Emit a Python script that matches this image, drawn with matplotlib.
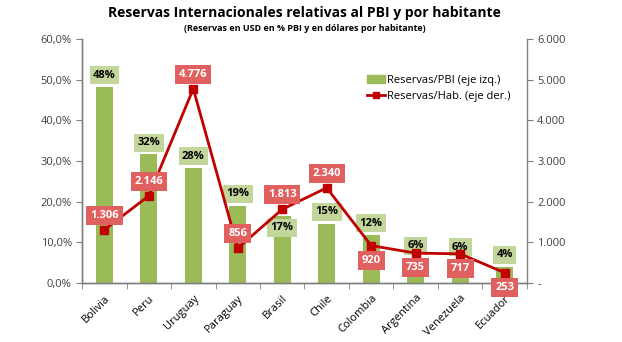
import matplotlib
matplotlib.use("Agg")
import matplotlib.pyplot as plt
from matplotlib.ticker import FuncFormatter
from matplotlib.lines import Line2D
from matplotlib.patches import Patch

countries = ["Bolivia", "Peru", "Uruguay", "Paraguay", "Brasil", "Chile",
             "Colombia", "Argentina", "Venezuela", "Ecuador"]
pbi_pct = [48.2, 31.6, 28.3, 19.0, 16.5, 14.6, 11.8, 6.2, 5.9, 4.0]
pbi_labels = ["48%", "32%", "28%", "19%", "17%", "15%", "12%", "6%", "6%", "4%"]
per_hab = [1306, 2146, 4776, 856, 1813, 2340, 920, 735, 717, 253]
hab_labels = ["1.306", "2.146", "4.776", "856", "1.813", "2.340", "920", "735", "717", "253"]
# label placement: +1 above, -1 below
bar_lab_side = [1, 1, 1, 1, -1, 1, 1, 1, 1, 1]
line_lab_side = [1, 1, 1, 1, 1, 1, -1, -1, -1, -1]

plt.rcParams['font.family'] = ['Open Sans', 'DejaVu Sans']

GREEN = "#9bbb59"
GREEN_LBL = "#c3d69b"
RED = "#c00000"
RED_LBL = "#e06060"
GRAY = "#7f7f7f"

fig = plt.figure(figsize=(6.22, 3.42), dpi=100)
ax = fig.add_axes([0.132, 0.1725, 0.715, 0.7135])
ax2 = ax.twinx()

x = list(range(len(countries)))
ax.bar(x, pbi_pct, width=0.38, color=GREEN, zorder=2)
ax.set_ylim(0, 60)
ax.set_xlim(-0.5, len(countries) - 0.5)
ax.set_yticks([0, 10, 20, 30, 40, 50, 60])
ax.yaxis.set_major_formatter(FuncFormatter(lambda v, p: f"{v:.1f}%".replace(".", ",")))
ax.set_xticks(x)
ax.set_xticklabels(countries, rotation=45, ha="right", rotation_mode="anchor", fontsize=8)
ax.set_xticks([i + 0.5 for i in range(-1, len(countries))], minor=True)
ax.tick_params(axis="x", which="major", length=0, pad=7)
ax.tick_params(axis="x", which="minor", length=4, color=GRAY)
ax.tick_params(axis="y", labelsize=8, length=4, color=GRAY, labelcolor="#404040")

ax2.plot(x, per_hab, color=RED, lw=2, marker="s", markersize=6, zorder=3)
ax2.set_ylim(0, 6000)
ax2.set_yticks([0, 1000, 2000, 3000, 4000, 5000, 6000])
ax2.yaxis.set_major_formatter(FuncFormatter(
    lambda v, p: "-" if v == 0 else f"{int(v):,}".replace(",", ".")))
ax2.tick_params(axis="y", labelsize=8, length=4, color=GRAY, labelcolor="#404040")

for a in (ax, ax2):
    a.spines["top"].set_visible(False)
    for s in ("left", "right", "bottom"):
        a.spines[s].set_color(GRAY)
        a.spines[s].set_linewidth(1.0)
ax.spines["right"].set_visible(False)

ax.set_zorder(ax2.get_zorder() - 1)
ax.patch.set_visible(True)
ax2.patch.set_visible(False)

for i, (v, lab, side) in enumerate(zip(pbi_pct, pbi_labels, bar_lab_side)):
    ax.annotate(lab, (i, v), xytext=(0, 8.5 * side), textcoords="offset points",
                ha="center", va="center", fontsize=8, fontweight="bold", color="black",
                bbox=dict(boxstyle="square,pad=0.3", fc=GREEN_LBL, ec="none"), zorder=4)

for i, (v, lab, side) in enumerate(zip(per_hab, hab_labels, line_lab_side)):
    ax2.annotate(lab, (i, v), xytext=(0, 10.5 * side), textcoords="offset points",
                 ha="center", va="center", fontsize=8, fontweight="bold", color="white",
                 bbox=dict(boxstyle="square,pad=0.35", fc=RED_LBL, ec="none"), zorder=5)

handles = [Patch(color=GREEN, label="Reservas/PBI (eje izq.)"),
           Line2D([0], [0], color=RED, lw=2, marker="s", markersize=5,
                  label="Reservas/Hab. (eje der.)")]
ax2.legend(handles=handles, loc="upper left", bbox_to_anchor=(0.63, 0.87),
           frameon=False, fontsize=8, handlelength=1.6, handletextpad=0.2,
           labelspacing=0.4, borderaxespad=0)

fig.text(0.49, 0.962, "Reservas Internacionales relativas al PBI y por habitante",
         ha="center", va="center", fontsize=10, fontweight="bold")
fig.text(0.49, 0.918, "(Reservas en USD en % PBI y en dólares por habitante)",
         ha="center", va="center", fontsize=6.5, fontweight="bold")

fig.savefig("out.png", dpi=100)
